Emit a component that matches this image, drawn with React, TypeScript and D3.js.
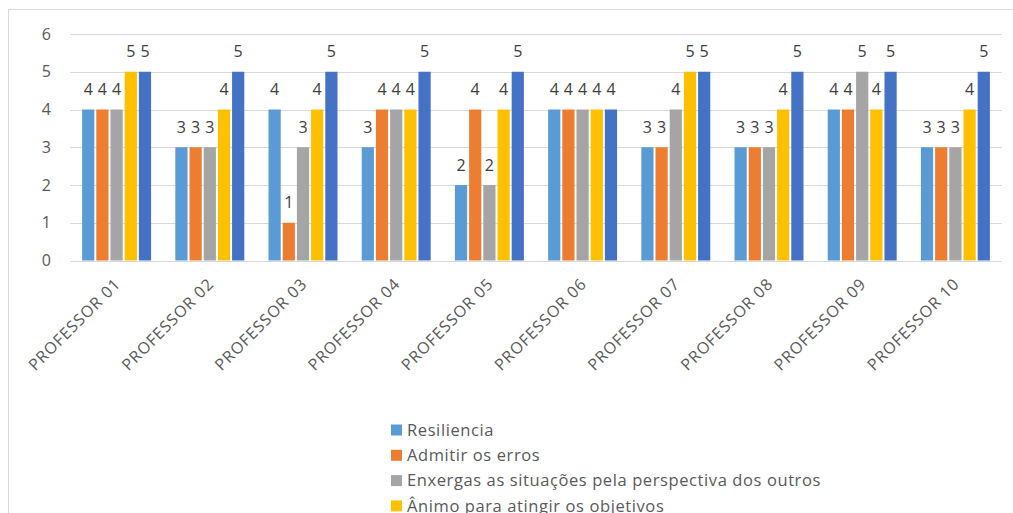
import React from "react";
import * as d3 from "d3";

const professors = [
  "PROFESSOR 01", "PROFESSOR 02", "PROFESSOR 03", "PROFESSOR 04", "PROFESSOR 05",
  "PROFESSOR 06", "PROFESSOR 07", "PROFESSOR 08", "PROFESSOR 09", "PROFESSOR 10",
];

const seriesNames = [
  "Resiliencia",
  "Admitir os erros",
  "Enxergas as situações pela perspectiva dos outros",
  "Ânimo para atingir os objetivos",
  "Autocontrole",
];

const seriesColors = ["#5B9BD5", "#ED7D31", "#A5A5A5", "#FFC000", "#4472C4"];

const resiliencia = [4, 3, 4, 3, 2, 4, 3, 3, 4, 3];
const admitirErros = [4, 3, 1, 4, 4, 4, 3, 3, 4, 3];
const enxergar = [4, 3, 3, 4, 2, 4, 4, 3, 5, 3];
const animo = [5, 4, 4, 4, 4, 4, 5, 4, 4, 4];
const autocontrole = [5, 5, 5, 5, 5, 4, 5, 5, 5, 5];

const seriesValues = [resiliencia, admitirErros, enxergar, animo, autocontrole];

const yTicks = [0, 1, 2, 3, 4, 5, 6];

const W = 1013;
const H = 513;
const FONT = "'Open Sans', sans-serif";

export default function App() {
  const plotLeft = 70;
  const plotRight = 1002;
  const y = d3.scaleLinear().domain([0, 6]).range([260.5, 34]);
  const x0 = d3
    .scaleBand<string>()
    .domain(professors)
    .range([plotLeft, plotRight])
    .paddingInner(0.26)
    .paddingOuter(0.13);
  const x1 = d3
    .scaleBand<string>()
    .domain(seriesNames)
    .range([0, x0.bandwidth()])
    .paddingInner(0.14);

  return (
    <svg
      width={W}
      height={H}
      style={{ position: "absolute", left: 0, top: 0, background: "#fff" }}
      fontFamily={FONT}
    >
      <rect x={8.5} y={9.5} width={W} height={H} fill="#fff" stroke="#D9D9D9" strokeWidth={1} />

      {/* horizontal gridlines and value axis labels */}
      {yTicks.map((t) => (
        <g key={t}>
          <line
            x1={plotLeft}
            x2={plotRight}
            y1={Math.round(y(t)) + 0.5}
            y2={Math.round(y(t)) + 0.5}
            stroke="#D9D9D9"
            strokeWidth={1}
          />
          <text
            x={51}
            y={y(t)}
            dy="0.35em"
            textAnchor="end"
            fontSize={16}
            fill="#595959"
          >
            {t}
          </text>
        </g>
      ))}

      {/* clustered bars with value labels */}
      {professors.map((p, i) => (
        <g key={p} transform={`translate(${x0(p)},0)`}>
          {seriesNames.map((s, k) => {
            const v = seriesValues[k][i];
            const bx = x1(s)!;
            return (
              <g key={s}>
                <rect
                  x={bx}
                  y={y(v)}
                  width={x1.bandwidth()}
                  height={y(0) - y(v)}
                  fill={seriesColors[k]}
                />
                <text
                  x={bx + x1.bandwidth() / 2}
                  y={y(v) - 14.5}
                  textAnchor="middle"
                  fontSize={16}
                  fill="#404040"
                >
                  {v}
                </text>
              </g>
            );
          })}
        </g>
      ))}

      {/* rotated category labels */}
      {professors.map((p) => {
        const cx = x0(p)! + x0.bandwidth() / 2 + 5;
        const cy = 285;
        return (
          <text
            key={p}
            transform={`translate(${cx},${cy}) rotate(-45)`}
            textAnchor="end"
            fontSize={16}
            letterSpacing={0.9}
            fill="#595959"
          >
            {p}
          </text>
        );
      })}

      {/* legend */}
      {seriesNames.map((s, k) => {
        const ly = 430 + k * 25.3;
        return (
          <g key={s} transform={`translate(391,${ly})`}>
            <rect x={0} y={-5.5} width={11} height={11} fill={seriesColors[k]} />
            <text x={16} y={0} dy="0.35em" fontSize={16.5} letterSpacing={0.6} fill="#595959">
              {s}
            </text>
          </g>
        );
      })}
    </svg>
  );
}
